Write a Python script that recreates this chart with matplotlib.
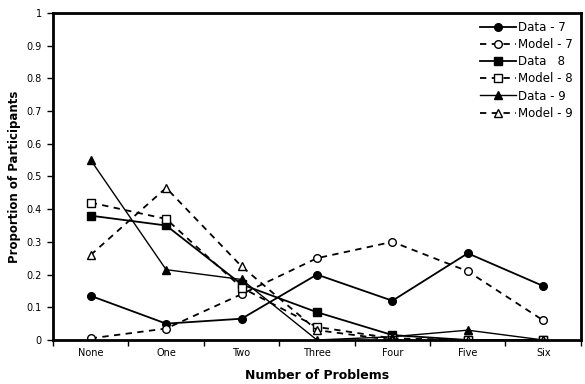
import numpy as np
import matplotlib.pyplot as plt

categories = ["None", "One", "Two", "Three", "Four", "Five", "Six"]

data_7 = [0.135, 0.05, 0.065, 0.20, 0.12, 0.265, 0.165]
model_7 = [0.005, 0.035, 0.14, 0.25, 0.30, 0.21, 0.06]
data_8 = [0.38, 0.35, 0.17, 0.085, 0.015, 0.0, 0.0]
model_8 = [0.42, 0.37, 0.16, 0.04, 0.005, 0.0, 0.0]
data_9 = [0.55, 0.215, 0.185, 0.0, 0.01, 0.03, 0.0]
model_9 = [0.26, 0.465, 0.225, 0.03, 0.0, 0.0, 0.0]

fig = plt.figure(figsize=(5.85, 3.84), dpi=100)
ax = fig.add_axes([0.0906, 0.1146, 0.9024, 0.852])

x = np.arange(len(categories))
dash = (0, (3.5, 3))

ax.plot(x, data_7, color="black", lw=1.3, marker="o", ms=5.5, mfc="black", label="Data - 7")
ax.plot(x, model_7, color="black", lw=1.3, ls=dash, marker="o", ms=5.5, mfc="white", label="Model - 7")
ax.plot(x, data_8, color="black", lw=1.3, marker="s", ms=5.5, mfc="black", label="Data   8")
ax.plot(x, model_8, color="black", lw=1.3, ls=dash, marker="s", ms=5.5, mfc="white", label="Model - 8")
ax.plot(x, data_9, color="black", lw=1.0, marker="^", ms=6, mfc="black", label="Data - 9")
ax.plot(x, model_9, color="black", lw=1.3, ls=dash, marker="^", ms=6, mfc="white", label="Model - 9")

ax.set_xlim(-0.5, 6.5)
ax.set_ylim(0, 1)
ax.set_yticks(np.arange(0, 1.01, 0.1))
ax.set_yticklabels(["0", "0.1", "0.2", "0.3", "0.4", "0.5", "0.6", "0.7", "0.8", "0.9", "1"])
ax.set_xticks(x)
ax.set_xticklabels(categories)
ax.set_xticks(np.arange(-0.5, 6.6, 1), minor=True)
ax.tick_params(axis="x", which="major", length=0, pad=6, labelsize=7)
ax.tick_params(axis="x", which="minor", length=4, width=1, direction="out")
ax.tick_params(axis="y", length=4, width=1, labelsize=7, pad=4)

for s in ax.spines.values():
    s.set_linewidth(2)

ax.set_xlabel("Number of Problems", fontsize=9, fontweight="bold", labelpad=8)
ax.set_ylabel("Proportion of Participants", fontsize=8.5, fontweight="bold", labelpad=4)

ax.legend(loc="upper right", frameon=False, fontsize=8.5, handlelength=3,
          labelspacing=0.35, borderaxespad=0.3, handletextpad=0.2)

fig.savefig("out.png", dpi=100)
